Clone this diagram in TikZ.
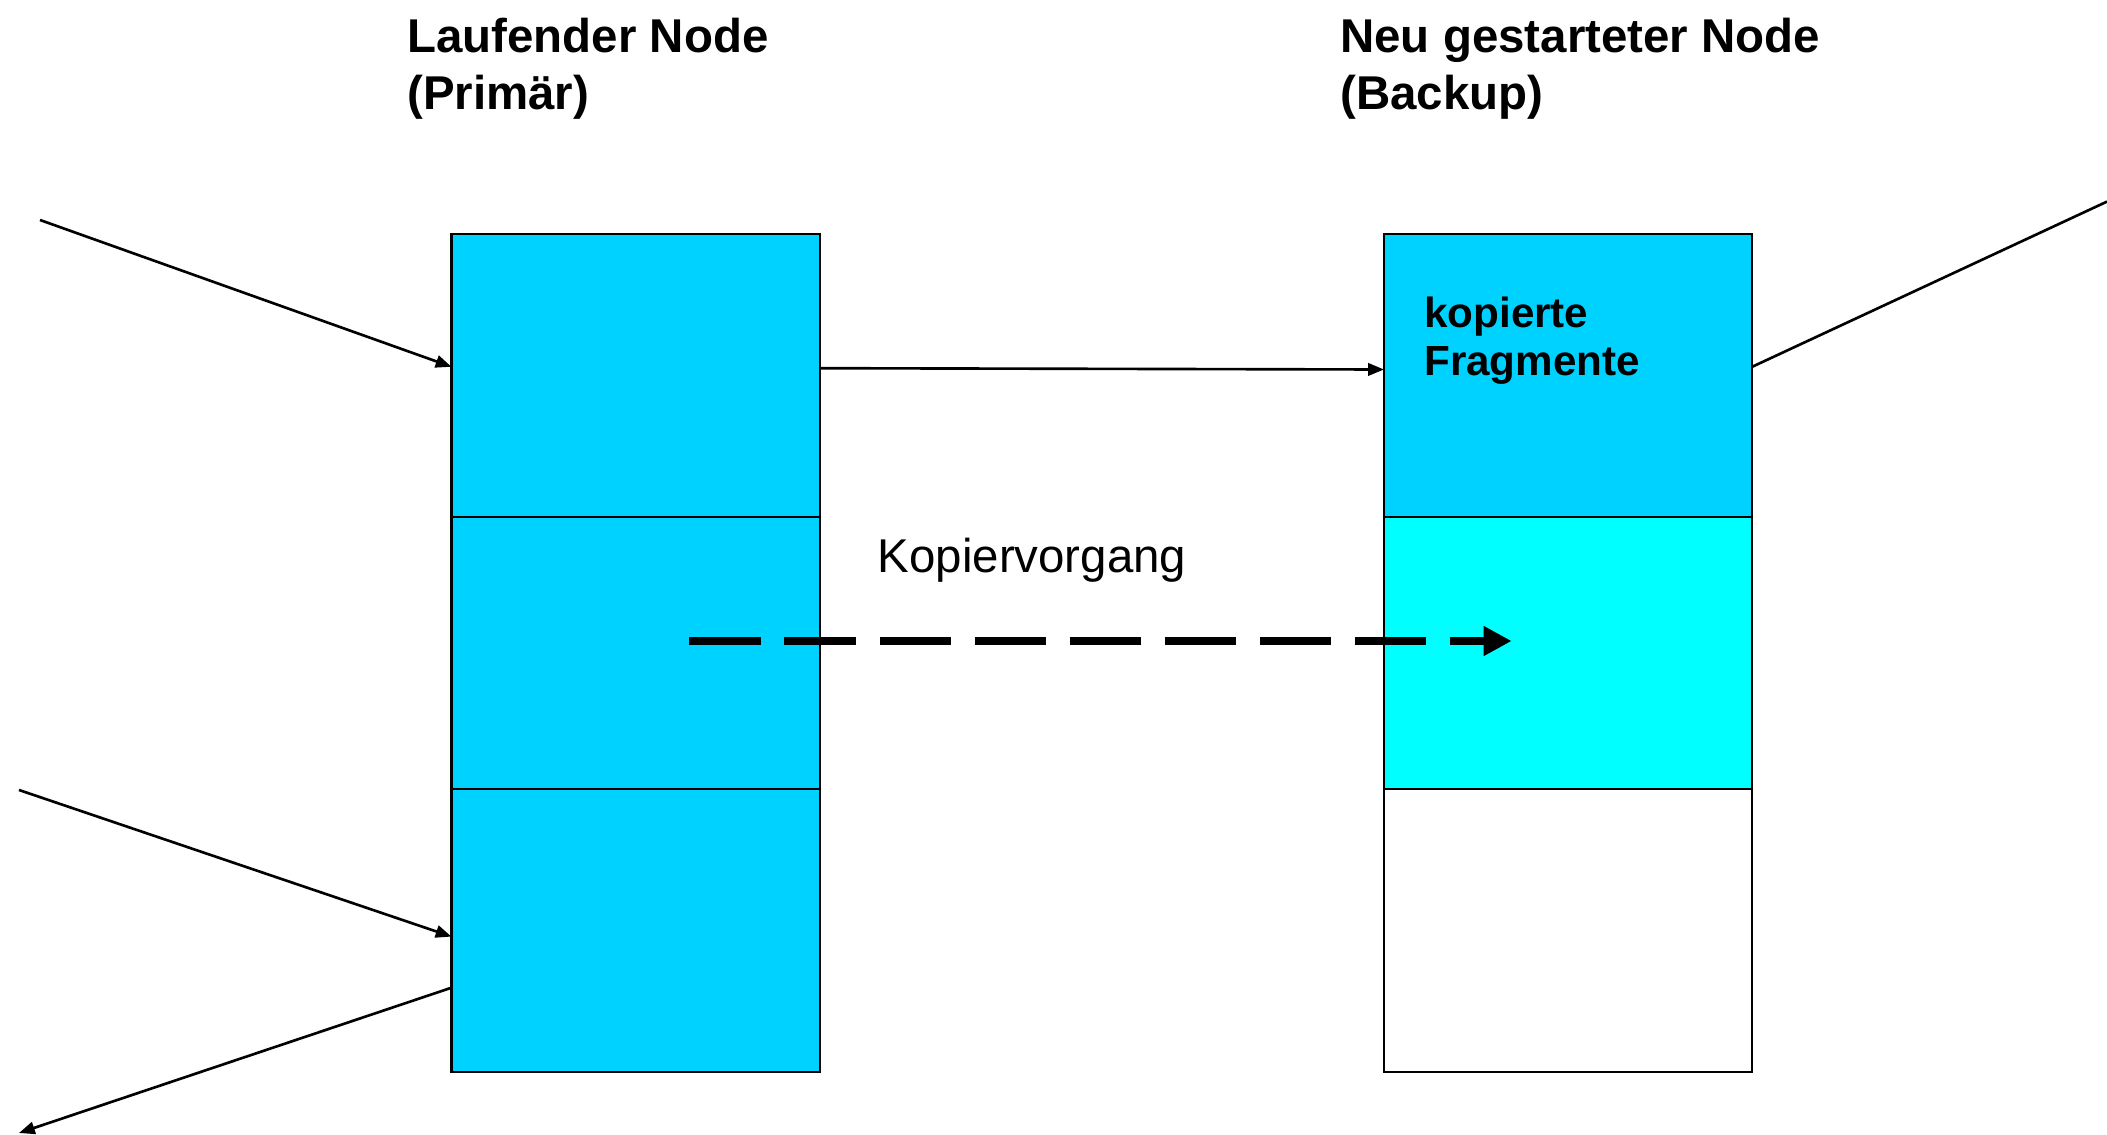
\documentclass[tikz,border=0pt]{standalone}
\usepackage{fontspec}
\setmainfont{Liberation Sans}
\usetikzlibrary{arrows.meta,calc}
\definecolor{fragblue}{HTML}{00D2FF}
\definecolor{fragcyan}{HTML}{00FFFF}
\begin{document}
\begin{tikzpicture}[x=0.02cm,y=-0.02cm,
  box/.style={draw=black,line width=1.2pt,inner sep=0pt,outer sep=0pt,anchor=north west,minimum width=7.364cm},
  thin/.style={line width=1.5pt,-{Triangle[length=9pt,width=7pt]}},
  plainline/.style={line width=1.5pt},
  title/.style={font=\bfseries\fontsize{27}{32}\selectfont,anchor=base west,inner sep=0pt},
  lbl/.style={font=\fontsize{27}{32}\selectfont,anchor=base,inner sep=0pt},
  inlbl/.style={font=\bfseries\fontsize{24}{27.4}\selectfont,anchor=base west,inner sep=0pt}]
\useasboundingbox (0,0) rectangle (2107,1135);
% left column
\node[box,fill=fragblue,minimum height=5.672cm] (L1) at (451.5,233.8) {};
\node[box,fill=fragblue,minimum height=5.428cm] (L2) at (451.5,517.4) {};
\node[box,fill=fragblue,minimum height=5.672cm] (L3) at (451.5,788.8) {};
% right column
\node[box,fill=fragblue,minimum height=5.672cm] (R1) at (1384,233.8) {};
\node[box,fill=fragcyan,minimum height=5.428cm] (R2) at (1384,517.4) {};
\node[box,fill=white,minimum height=5.672cm] (R3) at (1384,788.8) {};
% titles
\node[title] (t1a) at (407,53) {Laufender Node};
\node[title] (t1b) at (407,109.5) {(Primär)};
\node[title] (t2a) at (1340,53) {Neu gestarteter Node};
\node[title] (t2b) at (1340,109.5) {(Backup)};
% labels
\node[inlbl] (k1) at (1424,328) {kopierte};
\node[inlbl] (k2) at (1424,376) {Fragmente};
\node[lbl] (kv) at (1032,572) {Kopiervorgang};
% free ends
\coordinate (in1) at (40,220);
\coordinate (in2) at (19,790);
\coordinate (out1) at (19,1133);
\coordinate (out2) at (2107,201.6);
\coordinate (ds) at (689.4,641);
\coordinate (de) at (1511.7,641);
% connectors
\draw[thin] (in1) -- ($(L1.north west)+(0,133)$);
\draw[thin] (in2) -- ($(L3.north west)+(0,147.8)$);
\draw[thin] ($(L3.north west)+(0,198.9)$) -- (out1);
\draw[thin] ($(L1.north east)+(0,134.4)$) -- ($(R1.north west)+(0,135.7)$);
\draw[plainline] ($(R1.north east)+(0,133)$) -- (out2);
\draw[line width=4.5pt,dash pattern=on 40.5pt off 13.6pt,-{Triangle[length=16pt,width=16pt]}] (ds) -- (de);
\end{tikzpicture}
\end{document}
